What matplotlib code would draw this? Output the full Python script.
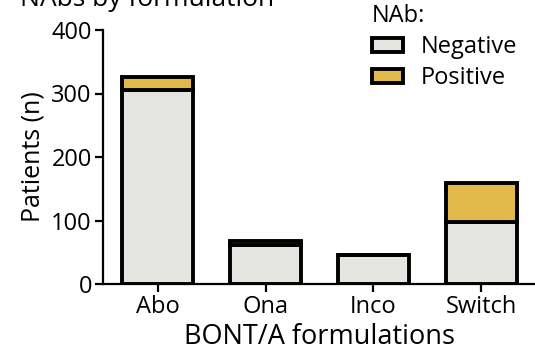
import matplotlib
matplotlib.use("Agg")
import matplotlib.pyplot as plt
from matplotlib.patches import Patch

plt.rcParams["font.family"] = ["Open Sans", "DejaVu Sans"]

formulations = ["Abo", "Ona", "Inco", "Switch"]
negative = [305, 62, 45, 98]
positive = [21, 5, 0, 61]

neg_color = "#e4e4e0"
pos_color = "#e3b94b"

fig = plt.figure(figsize=(5.35, 3.51), dpi=100)
ax = fig.add_axes([103 / 535, 1 - 284 / 351, 1 - 103 / 535, (284 - 30) / 351])

x = range(len(formulations))
ax.bar(x, negative, width=0.66, color=neg_color, edgecolor="black", linewidth=2.8)
ax.bar(x, positive, bottom=negative, width=0.66, color=pos_color,
       edgecolor="black", linewidth=2.8)

ax.set_xlim(-0.51, 3.5)
ax.set_ylim(0, 400)
ax.set_yticks([0, 100, 200, 300, 400])
ax.set_xticks(list(x), formulations)
ax.tick_params(labelsize=17, width=1.6, length=6, color="black", pad=2)
for side in ("top", "right"):
    ax.spines[side].set_visible(False)
for side in ("left", "bottom"):
    ax.spines[side].set_linewidth(1.6)

ax.set_ylabel("Patients (n)", fontsize=18, labelpad=4)
ax.set_xlabel("BONT/A formulations", fontsize=19.5, labelpad=3)

handles = [Patch(facecolor=neg_color, edgecolor="black", linewidth=2.8),
           Patch(facecolor=pos_color, edgecolor="black", linewidth=2.8)]
leg = ax.legend(handles, ["Negative", "Positive"], title="NAb:", frameon=False,
                fontsize=17, title_fontsize=17, alignment="left",
                handlelength=1.3, handleheight=0.55, handletextpad=0.75,
                labelspacing=0.3, borderpad=0, borderaxespad=0,
                loc="upper left", bbox_to_anchor=(372 / 535, 1 - 4 / 351),
                bbox_transform=fig.transFigure)

# panel heading, running off the top edge
fig.text(20 / 535, 1 - 6 / 351, "NAbs by formulation", fontsize=19,
         va="baseline", ha="left")

fig.savefig("out.png", dpi=100)
